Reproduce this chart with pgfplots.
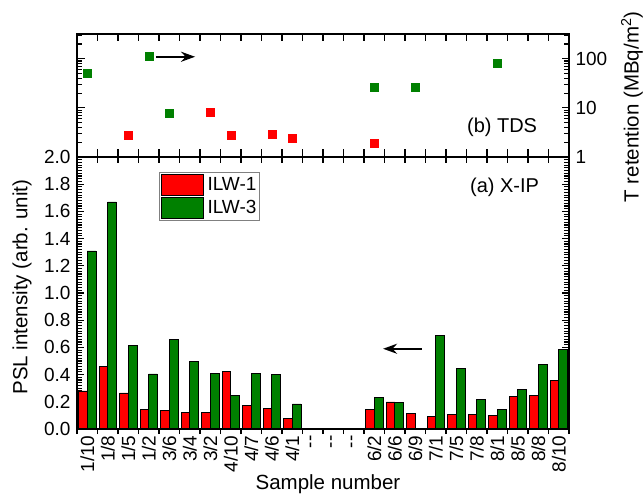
\documentclass[border=0pt]{standalone}
\usepackage{pgfplots}
\pgfplotsset{compat=1.18}
\usepackage{fontspec}
\setmainfont{Liberation Sans}
\usetikzlibrary{arrows.meta}
\definecolor{myred}{RGB}{255,0,0}
\definecolor{mygreen}{RGB}{0,128,0}
\newcommand{\labfont}{\fontsize{20.5bp}{24bp}\selectfont}
\begin{document}
\begin{tikzpicture}
\pgfplotsset{
  common/.style={
    scale only axis, width=492bp, xmin=-0.5, xmax=23.5,
    axis line style={line width=1.5bp},
    major tick style={line width=1.2bp, black},
    minor tick style={line width=1.1bp, black},
    major tick length=7bp, minor tick length=4.6bp,
    /pgf/number format/assume math mode=true,
    tick label style={font=\fontsize{19bp}{22bp}\selectfont},
  },
}
% ---------- bottom panel (a) X-IP ----------
\begin{axis}[common, height=272bp, at={(0,0)}, anchor=south west,
  ymin=0, ymax=2.0,
  ytick={0,0.2,0.4,0.6,0.8,1.0,1.2,1.4,1.6,1.8,2.0},
  minor y tick num=9,
  ytick pos=both, yticklabel pos=left, tick align=inside,
  yticklabel style={xshift=-3bp, /pgf/number format/fixed,/pgf/number format/fixed zerofill,/pgf/number format/precision=1},
  xtick=\empty,
  extra x ticks={0,1,2,3,4,5,6,7,8,9,10,11,12,13,14,15,16,17,18,19,20,21,22,23},
  extra x tick labels={1/10,1/8,1/5,1/2,3/6,3/4,3/2,4/10,4/7,4/6,4/1,{-}{-},{-}{-},{-}{-},6/2,6/6,6/9,7/1,7/5,7/8,8/1,8/5,8/8,8/10},
  extra x tick style={major tick length=0pt},
  xticklabel style={yshift=-3bp, rotate=90, anchor=east},
  ybar=0pt, bar width=8.6bp,
  xlabel={Sample number},
  ylabel={PSL intensity (arb. unit)},
  every axis x label/.style={at={(rel axis cs:0.5,0)}, xshift=5bp, yshift=-55bp, anchor=center, font=\labfont},
  every axis y label/.style={at={(rel axis cs:0,0.522)}, xshift=-55bp, rotate=90, anchor=center, font=\labfont},
  legend style={at={(0.1667,0.944)}, anchor=north west, draw={rgb,255:red,128;green,128;blue,128}, line width=0.8bp,
    font=\fontsize{19bp}{22bp}\selectfont, inner sep=1.5bp, row sep=1.5bp, column sep=2.5bp, nodes={inner sep=1.5bp}},
  legend image code/.code={\draw[#1, draw=black, line width=0.6bp] (0bp,-10.5bp) rectangle (42bp,10.5bp);},
]
\addplot[fill=myred, draw=black, line width=0.6bp] coordinates {
 (0,0.28) (1,0.46) (2,0.265) (3,0.145) (4,0.137) (5,0.125) (6,0.12) (7,0.424) (8,0.172) (9,0.15) (10,0.076)
 (14,0.143) (15,0.20) (16,0.113) (17,0.091) (18,0.106) (19,0.11) (20,0.10) (21,0.238) (22,0.25) (23,0.356)};
\addplot[fill=mygreen, draw=black, line width=0.6bp] coordinates {
 (0,1.31) (1,1.67) (2,0.613) (3,0.405) (4,0.657) (5,0.495) (6,0.407) (7,0.245) (8,0.41) (9,0.40) (10,0.184)
 (14,0.231) (15,0.197) (17,0.689) (18,0.446) (19,0.218) (20,0.142) (21,0.29) (22,0.476) (23,0.586)};
\legend{ILW-1,ILW-3}
\node[font=\fontsize{20bp}{24bp}\selectfont] at (rel axis cs:0.869,0.89) {(a) X-IP};
\draw[line width=2.2bp, -{Stealth[length=14bp,width=10bp]}] (axis cs:16.31,0.59) -- (axis cs:14.43,0.59);
\end{axis}
% overlay: outward ticks at bottom edge
\begin{axis}[common, height=272bp, at={(0,0)}, anchor=south west,
  ymin=0, ymax=2, ytick=\empty, xtick={-0.5,0.5,...,23.5}, xticklabel=\empty,
  xtick pos=bottom, tick align=outside, major tick length=5bp]
\end{axis}
% overlay: inward ticks at top edge of bottom panel
\begin{axis}[common, height=272bp, at={(0,0)}, anchor=south west,
  ymin=0, ymax=2, ytick=\empty, xtick={-0.5,0.5,...,23.5}, xticklabel=\empty,
  xtick pos=top, tick align=inside, major tick length=6bp]
\end{axis}
% ---------- top panel (b) TDS ----------
\begin{axis}[common, height=123bp, at={(0,272bp)}, anchor=south west,
  ymode=log, ymin=1, ymax=320,
  ytick={1,10,100}, yticklabels={1,10,100},
  minor ytick={2,3,4,5,6,7,8,9,20,30,40,50,60,70,80,90,200,300},
  ytick pos=both, yticklabel pos=right, tick align=inside,
  yticklabel style={xshift=3bp},
  xtick={-0.5,0.5,...,23.5}, xticklabel=\empty, xtick pos=both, major tick length=7.5bp,
  ylabel={T retention (MBq/m\textsuperscript{2})},
  every axis y label/.style={at={(rel axis cs:1,0.407)}, xshift=63bp, rotate=90, anchor=center, font=\labfont},
]
\addplot[only marks, mark=square*, mark size=4bp, color=myred] coordinates {
 (2,2.8) (6,8.0) (7,2.8) (9,2.95) (10,2.45) (14,1.93)};
\addplot[only marks, mark=square*, mark size=4bp, color=mygreen] coordinates {
 (0,50) (3,111) (4,7.9) (14,26.5) (16,26) (20,83)};
\node[font=\fontsize{20bp}{24bp}\selectfont] at (rel axis cs:0.864,0.244) {(b) TDS};
\draw[line width=2.2bp, -{Stealth[length=14bp,width=10bp]}] (axis cs:3.35,110) -- (axis cs:5.26,110);
\end{axis}
\pgfresetboundingbox
\path[use as bounding box] (-77bp,-70bp) rectangle (566bp,429bp);
\end{tikzpicture}
\end{document}
